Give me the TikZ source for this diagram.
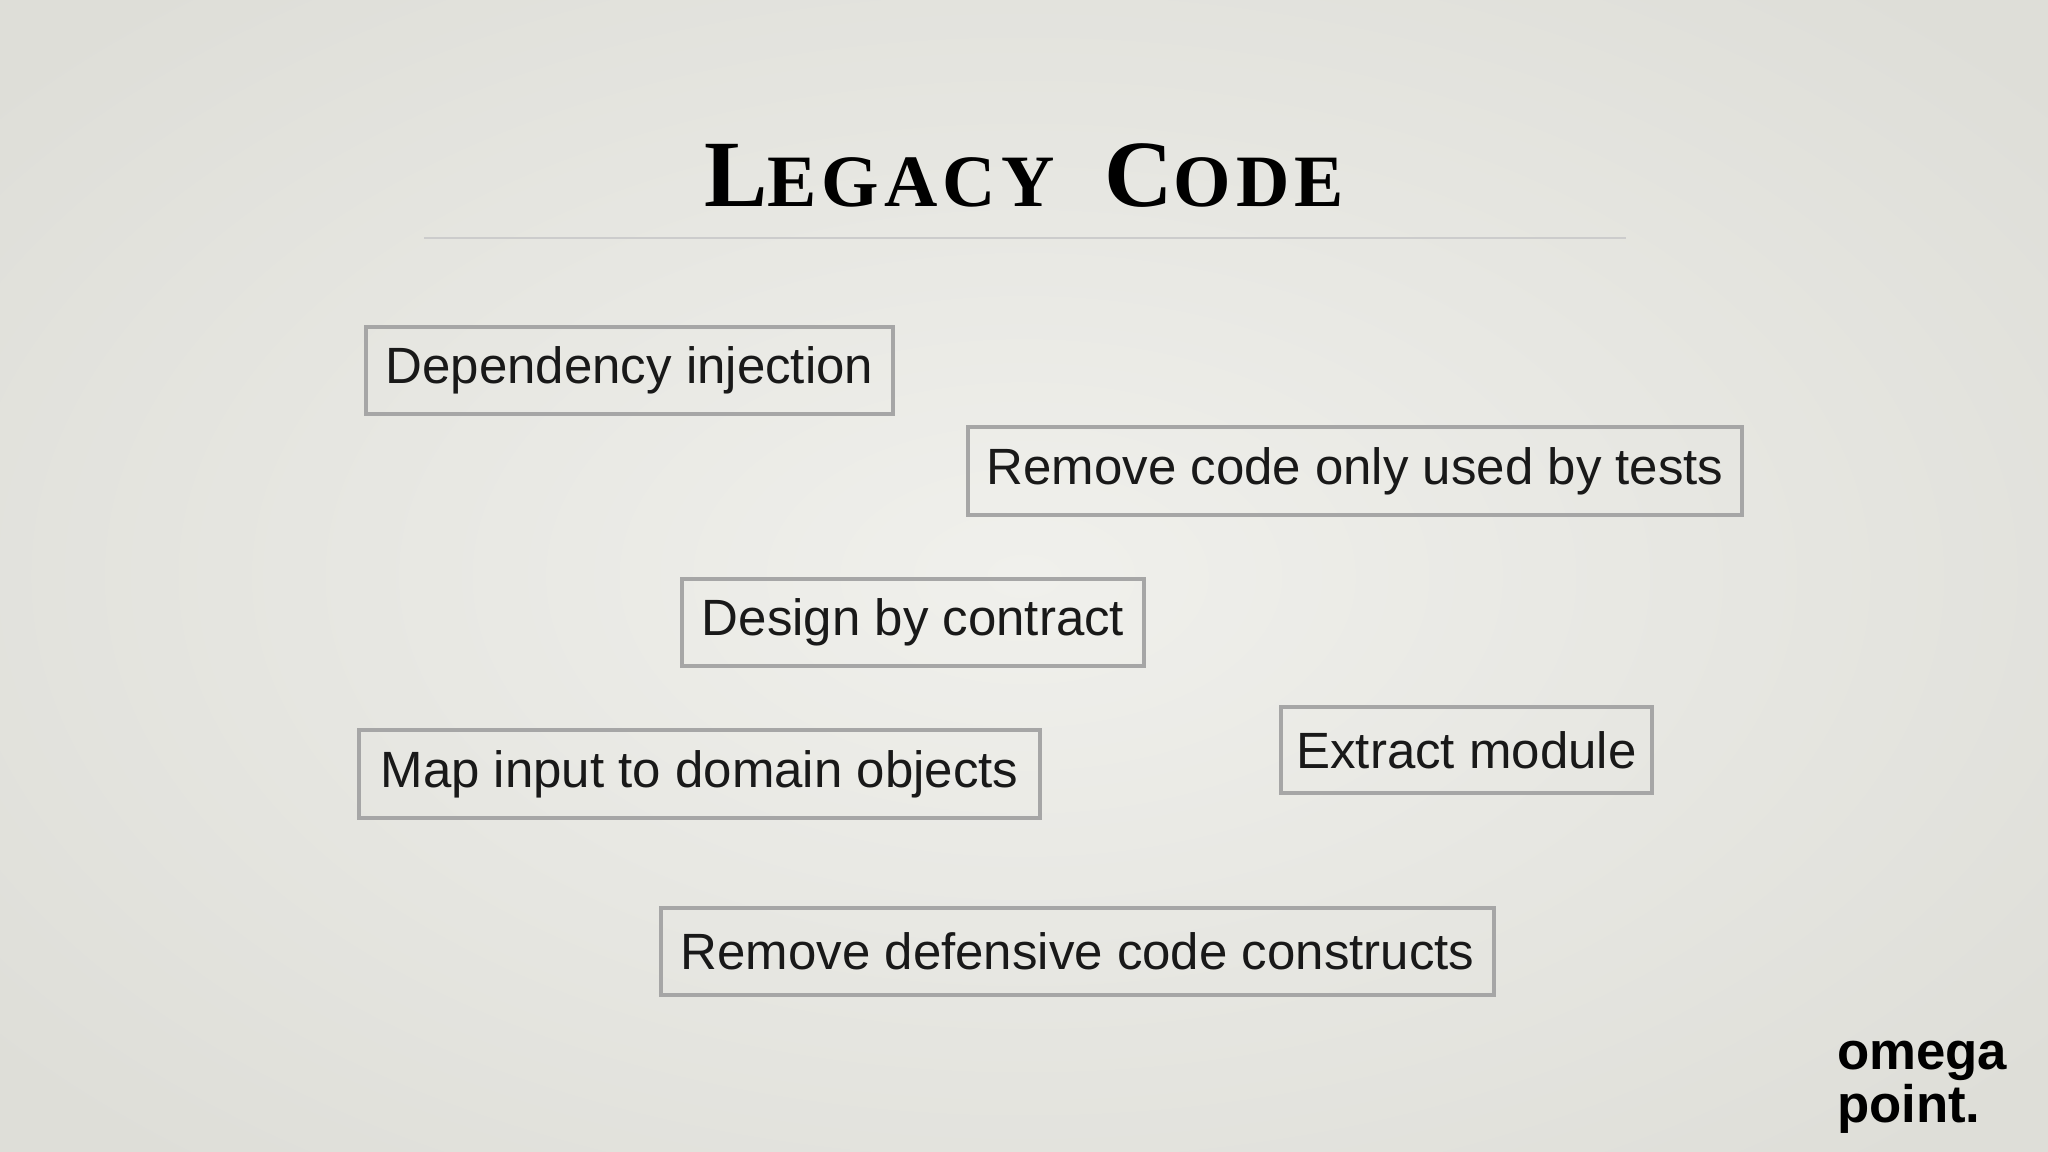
\documentclass[tikz,border=0pt]{standalone}
\usepackage{fontspec}
\setmainfont{Liberation Serif}
\setsansfont{Liberation Sans}
\newcommand{\sk}{\kern0.07em}
\begin{document}
\begin{tikzpicture}[x=0.01cm,y=-0.01cm,
  tag/.style={draw=gray!70,line width=1.2pt,inner sep=0pt,font=\sffamily\fontsize{14.5}{17}\selectfont,text=black!90},
]
\useasboundingbox (0,0) rectangle (2048,1152);
\definecolor{bgin}{RGB}{240,240,236}
\definecolor{bgout}{RGB}{222,222,216}
\shade[inner color=bgin,outer color=bgout] (-300,-200) rectangle (2348,1352);
\node[font=\bfseries\fontsize{27}{30}\selectfont] (title) at (1024,176) {L{\fontsize{21}{24}\selectfont E\sk G\sk A\sk C\sk Y}\; C{\fontsize{21}{24}\selectfont O\sk D\sk E}};
\coordinate (l1) at (424,238); \coordinate (l2) at (1626,238);
\draw[gray!40,line width=0.6pt] (l1) -- (l2);
\node[tag,minimum width=5.27cm,minimum height=0.87cm] (a) at (629.5,370.5) {Dependency injection};
\node[tag,minimum width=7.74cm,minimum height=0.88cm] (b) at (1355,471) {Remove code only used by tests};
\node[tag,minimum width=4.62cm,minimum height=0.87cm] (c) at (913,622.5) {Design by contract};
\node[tag,minimum width=6.81cm,minimum height=0.88cm] (d) at (699.5,774) {Map input to domain objects};
\node[tag,minimum width=3.71cm,minimum height=0.86cm] (e) at (1466.5,750) {Extract module};
\node[tag,minimum width=8.33cm,minimum height=0.87cm] (f) at (1077.5,951.5) {Remove defensive code constructs};
\node[font=\sffamily\bfseries\fontsize{15}{12}\selectfont,align=left,inner sep=0pt] (logo) at (1922,1087) {omega\\point.};
\end{tikzpicture}
\end{document}
